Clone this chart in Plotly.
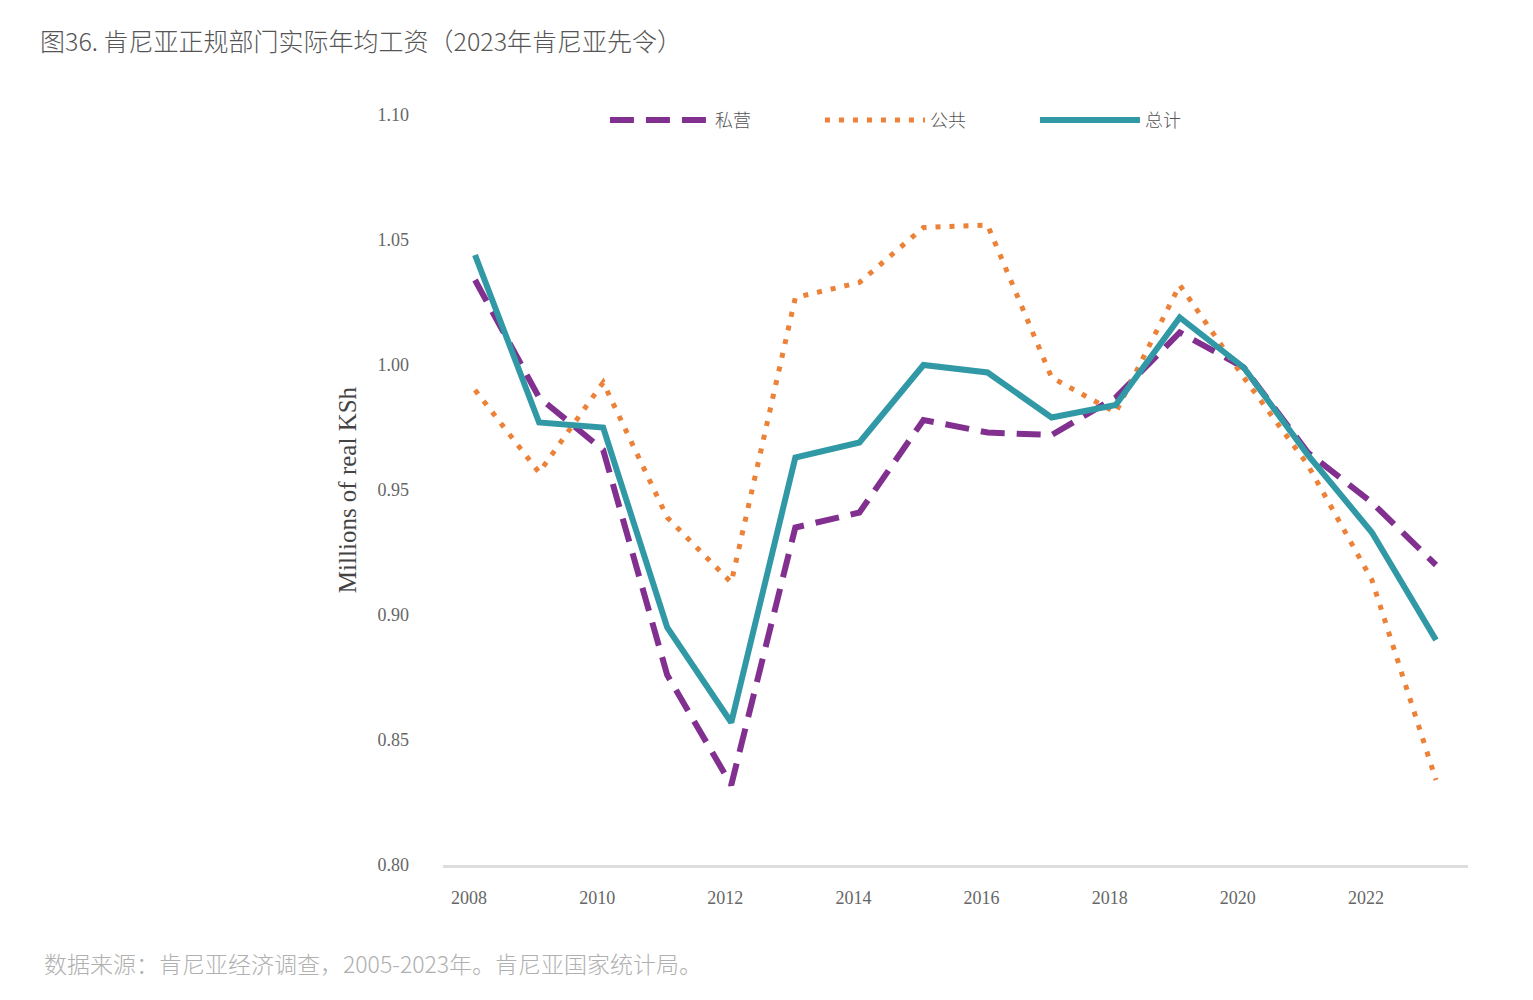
import plotly.graph_objects as go

years = list(range(2008, 2024))
private = [1.034, 0.987, 0.966, 0.876, 0.832, 0.935, 0.941, 0.978, 0.973, 0.972, 0.987, 1.013, 0.999, 0.965, 0.945, 0.920]
public = [0.990, 0.957, 0.993, 0.939, 0.913, 1.027, 1.033, 1.055, 1.056, 0.995, 0.981, 1.032, 0.995, 0.960, 0.914, 0.834]
total = [1.044, 0.977, 0.975, 0.895, 0.857, 0.963, 0.969, 1.000, 0.997, 0.979, 0.984, 1.019, 0.999, 0.964, 0.933, 0.890]
names = ["私营", "公共", "总计"]
x_ticks = [2008, 2010, 2012, 2014, 2016, 2018, 2020, 2022]
y_ticks = [0.80, 0.85, 0.90, 0.95, 1.00, 1.05, 1.10]

cjk = "Noto Sans CJK SC"
serif = "Liberation Serif"

fig = go.Figure()
fig.add_trace(go.Scatter(x=years, y=private, name=names[0], mode="lines",
                         line=dict(color="#82308F", width=6, dash="24px,12px")))
fig.add_trace(go.Scatter(x=years, y=public, name=names[1], mode="lines",
                         line=dict(color="#EC8138", width=5, dash="5px,9px")))
fig.add_trace(go.Scatter(x=years, y=total, name=names[2], mode="lines",
                         line=dict(color="#3199A5", width=6)))

fig.update_layout(
    width=1533, height=1000,
    margin=dict(l=443, r=65, t=115, b=135),
    plot_bgcolor="white", paper_bgcolor="white",
    title=dict(text="图36. 肯尼亚正规部门实际年均工资（2023年肯尼亚先令）",
               x=40/1533, xanchor="left", xref="container", y=1-42/1000, yanchor="middle",
               yref="container",
               font=dict(family=cjk, size=25, color="#555", weight=300)),
    legend=dict(orientation="h", x=0.158, xanchor="left", y=0.993, yanchor="middle",
                font=dict(family=cjk, size=18, color="#555", weight=300),
                itemwidth=100, entrywidth=100, traceorder="normal", bgcolor="rgba(0,0,0,0)"),
    xaxis=dict(range=[2007.5, 2023.5], tickvals=x_ticks, showgrid=False, zeroline=False,
               showline=True, linecolor="#DDDDDD", linewidth=3,
               ticks="", ticklabelstandoff=14, ticklabelshift=-6,
               tickfont=dict(family=serif, size=18, color="#666")),
    yaxis=dict(range=[0.80, 1.10], tickvals=y_ticks, tickformat=".2f", showgrid=False,
               zeroline=False, showline=False, ticks="", ticklabelstandoff=33,
               tickfont=dict(family=serif, size=18, color="#666"),
               title=dict(text="Millions of real KSh", standoff=13,
                          font=dict(family=serif, size=25, color="#444"))),
)
fig.add_annotation(text="数据来源：肯尼亚经济调查，2005-2023年。肯尼亚国家统计局。",
                   xref="paper", yref="paper", x=-401/1025, y=-98/750,
                   xanchor="left", yanchor="middle", showarrow=False,
                   font=dict(family=cjk, size=23, color="#B0B0B0", weight=300))
fig.write_html("out.html")
